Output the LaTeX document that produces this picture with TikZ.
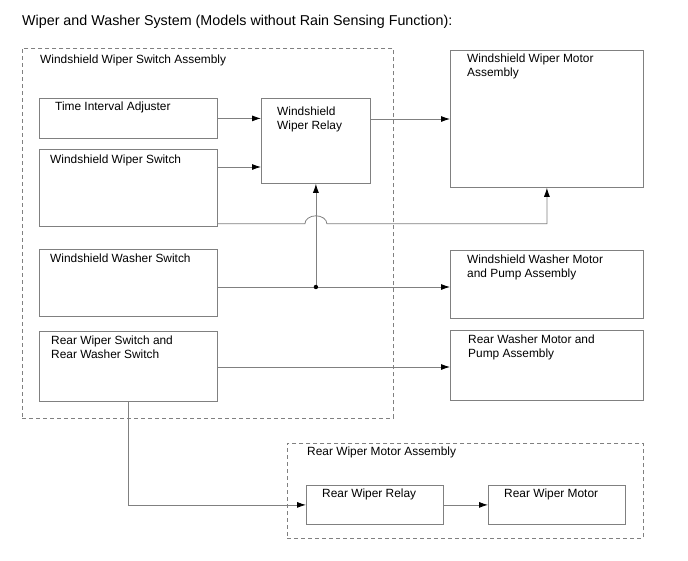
\documentclass[tikz,border=0pt]{standalone}
\usepackage{fontspec}
\setmainfont{Liberation Sans}
\usetikzlibrary{arrows.meta}
\definecolor{linegray}{RGB}{128,128,128}

\begin{document}
\begin{tikzpicture}[
                x=1pt, y=-1pt,
                font=\fontsize{11.9}{13.8}\selectfont,
                block/.style={rectangle, draw=linegray, line width=0.8pt, anchor=north west, inner sep=0pt},
                group/.style={rectangle, draw=linegray, line width=0.8pt, dash pattern=on 4pt off 3pt, anchor=north west, inner sep=0pt},
                txt/.style={anchor=north west, inner sep=0pt, align=left},
                line/.style={draw=linegray, line width=0.8pt, -{Latex[black, length=9pt, width=6pt]}},
                wire/.style={draw=linegray, line width=0.8pt}
            ]
                \useasboundingbox (0,0) rectangle (688,560);

                % --- TITEL ---
                \node[txt, font=\fontsize{14.3}{16}\selectfont] (title) at (22,15) {Wiper and Washer System (Models without Rain Sensing Function):};

                % --- SCHALTER (LINKS) ---
                \node[group, minimum width=371pt, minimum height=370pt] (swa) at (22,48) {};
                \node[txt] (swat) at ([shift={(18,7)}]swa.north west) {Windshield Wiper Switch Assembly};
                \node[block, minimum width=178pt, minimum height=40pt] (adj) at (39,98) {};
                \node[txt] (adjt) at ([shift={(16,4)}]adj.north west) {Time Interval Adjuster};
                \node[block, minimum width=178pt, minimum height=77pt] (wsw) at (39,149) {};
                \node[txt] (wswt) at ([shift={(11,6)}]wsw.north west) {Windshield Wiper Switch};
                \node[block, minimum width=178pt, minimum height=67pt] (wash) at (39,249) {};
                \node[txt] (washt) at ([shift={(11,5)}]wash.north west) {Windshield Washer Switch};
                \node[block, minimum width=178pt, minimum height=70pt] (rsw) at (39,331) {};
                \node[txt] (rswt) at ([shift={(12,5)}]rsw.north west) {Rear Wiper Switch and\\Rear Washer Switch};
                \node[block, minimum width=109pt, minimum height=85pt] (relay) at (261,98) {};
                \node[txt] (relayt) at ([shift={(16,9)}]relay.north west) {Windshield\\Wiper Relay};

                % --- MOTOREN (RECHTS) ---
                \node[block, minimum width=193pt, minimum height=137pt] (motor) at (450,50) {};
                \node[txt] (motort) at ([shift={(17,4)}]motor.north west) {Windshield Wiper Motor\\Assembly};
                \node[block, minimum width=193pt, minimum height=68pt] (wmot) at (450,250) {};
                \node[txt] (wmott) at ([shift={(17,5)}]wmot.north west) {Windshield Washer Motor\\and Pump Assembly};
                \node[block, minimum width=193pt, minimum height=70pt] (rwm) at (450,330) {};
                \node[txt] (rwmt) at ([shift={(18,5)}]rwm.north west) {Rear Washer Motor and\\Pump Assembly};

                % --- HECKWISCHER (UNTEN) ---
                \node[group, minimum width=356pt, minimum height=95pt] (rwa) at (287,443) {};
                \node[txt] (rwat) at ([shift={(20,4)}]rwa.north west) {Rear Wiper Motor Assembly};
                \node[block, minimum width=137pt, minimum height=39pt] (rrel) at (306,485) {};
                \node[txt] (rrelt) at ([shift={(16,4)}]rrel.north west) {Rear Wiper Relay};
                \node[block, minimum width=137pt, minimum height=39pt] (rmot) at (488,485) {};
                \node[txt] (rmott) at ([shift={(16,4)}]rmot.north west) {Rear Wiper Motor};

                % --- VERBINDUNGEN ---
                \draw[line] (adj.east) -- (relay.west |- adj.east);
                \draw[line] ([yshift=-18pt]wsw.north east) coordinate (w1) -- (w1 -| relay.west);
                \draw[line] ([yshift=-21pt]relay.north east) coordinate (r1) -- (r1 -| motor.west);
                \draw[line] ([yshift=3pt]wsw.south east) coordinate (h0) -- ([xshift=-11pt]h0 -| relay.south)
                    arc[start angle=180, end angle=360, x radius=11, y radius=8] -- (h0 -| motor.south) -- (motor.south);
                \draw[line] ([yshift=-38pt]wash.north east) coordinate (j0) -- (j0 -| wmot.west);
                \coordinate (dot) at (j0 -| relay.south);
                \draw[line] (dot) -- (relay.south);
                \fill (dot) circle (2.2);
                \draw[line] ([yshift=-36pt]rsw.north east) coordinate (s1) -- (s1 -| rwm.west);
                \draw[line] (rsw.south) |- (rrel.west);
                \draw[line] (rrel.east) -- (rmot.west);

            \end{tikzpicture}
\end{document}
